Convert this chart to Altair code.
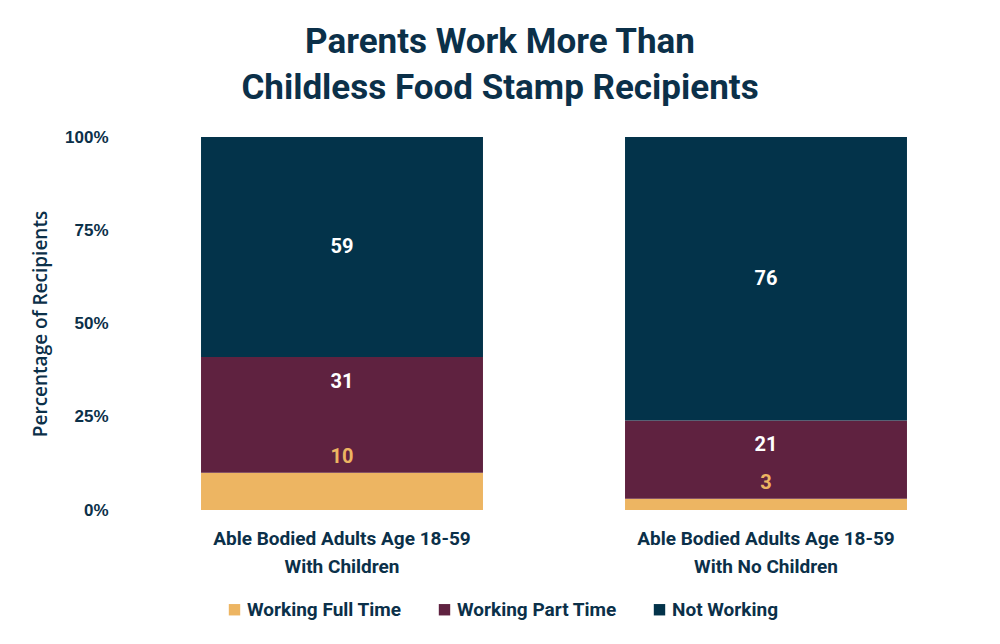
import altair as alt
import pandas as pd

groups = ["Able Bodied Adults Age 18-59|With Children",
          "Able Bodied Adults Age 18-59|With No Children"]
series = ["Working Full Time", "Working Part Time", "Not Working"]
full_time = [10, 3]
part_time = [31, 21]
not_working = [59, 76]
colors = ["#EDB562", "#5F2240", "#03334A"]
y_ticks = [0, 25, 50, 75, 100]

rows = []
for i, g in enumerate(groups):
    for j, (s, vals) in enumerate(zip(series, [full_time, part_time, not_working])):
        rows.append({"group": g, "series": s, "value": vals[i], "order": j})
df = pd.DataFrame(rows)

TXT = "#0B3049"
COND = "Roboto"

x_enc = alt.X("group:N", sort=groups, title=None,
              scale=alt.Scale(paddingInner=0.335, paddingOuter=0.1675),
              axis=alt.Axis(labelExpr="split(datum.label, '|')", labelAngle=0,
                            labelFont=COND, labelFontSize=19, labelFontWeight="bold",
                            labelColor=TXT, labelPadding=19, labelLineHeight=28,
                            labelLimit=0, ticks=False, domain=False))
y_scale = alt.Scale(domain=[0, 100], nice=False)

base = alt.Chart(df)
bars = base.mark_bar().encode(
    x=x_enc,
    y=alt.Y("value:Q", stack="zero", scale=y_scale,
            title="Percentage of Recipients",
            axis=alt.Axis(values=y_ticks, labelExpr="datum.value + '%'",
                          grid=False, domain=False, ticks=False,
                          labelFont="Liberation Sans", labelFontSize=17,
                          labelFontWeight="bold", labelColor=TXT, labelPadding=22,
                          titleFont="Open Sans", titleFontSize=19,
                          titleFontWeight=600, titleColor=TXT, titlePadding=14)),
    color=alt.Color("series:N", sort=series,
                    scale=alt.Scale(domain=series, range=colors),
                    legend=alt.Legend(title=None, orient="none", direction="horizontal",
                                      legendX=95, legendY=463,
                                      symbolType="square", symbolSize=130,
                                      symbolStrokeWidth=0, symbolOpacity=1,
                                      labelFont=COND, labelFontSize=19,
                                      labelFontWeight="bold", labelColor=TXT,
                                      labelLimit=0, columnPadding=33, labelOffset=3)),
    order=alt.Order("order:Q"),
)

stacked = base.transform_stack(
    stack="value", as_=["y0", "y1"], groupby=["group"],
    sort=[alt.SortField("order")]
).transform_calculate(mid="(datum.y0 + datum.y1) / 2")

txt_kw = dict(font=COND, fontSize=20, fontWeight="bold", baseline="middle")

ft_text = stacked.transform_filter(alt.datum.series == series[0]).mark_text(
    color=colors[0], dy=-16, **txt_kw).encode(
    x=alt.X("group:N", sort=groups), y=alt.Y("y1:Q", scale=y_scale),
    text="value:Q")
pt_text = stacked.transform_filter(alt.datum.series == series[1]).mark_text(
    color="#FFFFFF", dy=25, **txt_kw).encode(
    x=alt.X("group:N", sort=groups), y=alt.Y("y1:Q", scale=y_scale),
    text="value:Q")
nw_text = stacked.transform_filter(alt.datum.series == series[2]).mark_text(
    color="#FFFFFF", **txt_kw).encode(
    x=alt.X("group:N", sort=groups), y=alt.Y("mid:Q", scale=y_scale),
    text="value:Q")

chart = alt.layer(bars, ft_text, pt_text, nw_text).properties(
    width=848, height=373,
    autosize=alt.AutoSizeParams(type="none"),
    padding={"left": 122, "top": 129, "right": 0, "bottom": 120},
    background="white",
    title=alt.Title(["Parents Work More Than", "Childless Food Stamp Recipients"],
                    font=COND, fontSize=35, fontWeight="bold", color=TXT,
                    anchor="middle", dx=-54, offset=22, lineHeight=46),
).configure_view(stroke=None)

chart.save("out.html", embed_options={"renderer": "svg", "actions": False})
